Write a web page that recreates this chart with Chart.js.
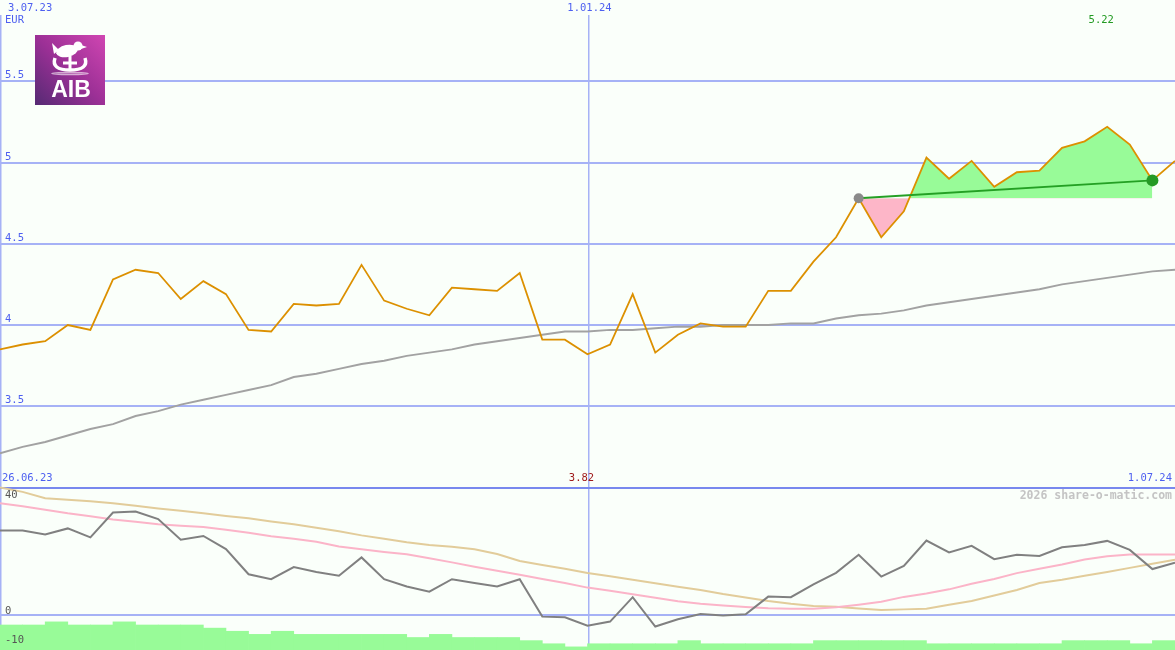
<!DOCTYPE html>
<html>
<head>
<meta charset="utf-8">
<title>AIB</title>
<script src="https://cdn.jsdelivr.net/npm/chart.js@4.4.1/dist/chart.umd.min.js"></script>
<style>
    html, body { margin: 0; padding: 0; background: #fafffa; }
    #wrap { width: 1175px; height: 650px; }
</style>
</head>
<body>
<div id="wrap"><canvas id="aibChart" width="1175" height="650"></canvas></div>
<script>
// weekly closes, 3.07.23 .. 1.07.24 (EUR)
const prices = [3.85, 3.88, 3.90, 4.00, 3.97, 4.28, 4.34, 4.32, 4.16, 4.27,
    4.19, 3.97, 3.96, 4.13, 4.12, 4.13, 4.37, 4.15, 4.10, 4.06,
    4.23, 4.22, 4.21, 4.32, 3.91, 3.91, 3.82, 3.88, 4.19, 3.83,
    3.94, 4.01, 3.99, 3.99, 4.21, 4.21, 4.39, 4.54, 4.78, 4.54,
    4.70, 5.03, 4.90, 5.01, 4.85, 4.94, 4.95, 5.09, 5.13, 5.22,
    5.11, 4.89, 5.01];

// long moving average (grey)
const priceAvg = [3.21, 3.25, 3.28, 3.32, 3.36, 3.39, 3.44, 3.47, 3.51, 3.54,
    3.57, 3.60, 3.63, 3.68, 3.70, 3.73, 3.76, 3.78, 3.81, 3.83,
    3.85, 3.88, 3.90, 3.92, 3.94, 3.96, 3.96, 3.97, 3.97, 3.98,
    3.99, 3.99, 4.00, 4.00, 4.00, 4.01, 4.01, 4.04, 4.06, 4.07,
    4.09, 4.12, 4.14, 4.16, 4.18, 4.20, 4.22, 4.25, 4.27, 4.29,
    4.31, 4.33, 4.34];

// oscillator (lower panel)
const momentum = [29.2, 29.2, 27.8, 29.9, 26.8, 35.4, 35.7, 33.1, 26.0, 27.3,
    22.8, 14.1, 12.4, 16.6, 14.9, 13.6, 19.9, 12.4, 9.9, 8.1,
    12.4, 11.1, 9.9, 12.4, -0.5, -0.7, -3.6, -2.2, 6.2, -3.9,
    -1.4, 0.4, -0.1, 0.3, 6.4, 6.2, 10.6, 14.6, 20.8, 13.3,
    17.0, 25.7, 21.6, 23.9, 19.3, 20.8, 20.4, 23.4, 24.2, 25.6,
    22.5, 15.9, 18.1];
const momFast = [38.6, 37.5, 36.3, 35.1, 34.1, 33.0, 32.2, 31.3, 30.8, 30.4,
    29.4, 28.4, 27.2, 26.3, 25.3, 23.7, 22.7, 21.8, 21.0, 19.6,
    18.2, 16.7, 15.3, 13.9, 12.5, 11.1, 9.5, 8.4, 7.2, 6.0,
    4.8, 3.9, 3.3, 2.8, 2.4, 2.2, 2.2, 2.7, 3.6, 4.6,
    6.3, 7.5, 8.9, 10.8, 12.5, 14.5, 16.0, 17.5, 19.2, 20.3,
    20.9, 20.9, 20.9];
const momSlow = [44.0, 42.5, 40.3, 39.8, 39.3, 38.6, 37.7, 36.8, 36.0, 35.1,
    34.2, 33.4, 32.3, 31.3, 30.1, 28.9, 27.5, 26.3, 25.1, 24.2,
    23.6, 22.7, 21.1, 18.7, 17.3, 16.0, 14.5, 13.4, 12.2, 11.0,
    9.8, 8.7, 7.3, 6.1, 4.9, 3.9, 3.2, 2.9, 2.3, 1.8,
    2.0, 2.2, 3.6, 4.9, 6.8, 8.7, 11.1, 12.2, 13.6, 14.9,
    16.3, 17.7, 19.1];

// weekly volume level (one bar per week)
const volume = [8, 8, 9, 8, 8, 9, 8, 8, 8, 7, 6, 5, 6, 5, 5, 5, 5, 5, 4, 5,
    4, 4, 4, 3, 2, 1, 2, 2, 2, 2, 3, 2, 2, 2, 2, 2, 3, 3, 3, 3,
    3, 2, 2, 2, 2, 2, 2, 3, 3, 3, 2, 3];

const topDates = [[0, '3.07.23'], [26, '1.01.24']];
const priceTicks = [5.5, 5, 4.5, 4, 3.5];
const oscTicks = [40, 0, -10];
const trendFrom = 38;
const trendTo = 51;

const BLUE_TXT = '#4d5ff0';
const GRID = '#a6b2f6';
const FONT = '10.5px "DejaVu Sans Mono", monospace';

const pts = arr => arr.map((y, i) => ({ x: i, y: y }));
const maxIdx = prices.indexOf(Math.max(...prices));
const minIdx = prices.indexOf(Math.min(...prices));

function drawLogo(ctx, x, y, s) {
    const g = ctx.createLinearGradient(x + s, y, x, y + s);
    g.addColorStop(0, '#d046b2');
    g.addColorStop(0.5, '#9c3096');
    g.addColorStop(1, '#552a73');
    ctx.fillStyle = g;
    ctx.fillRect(x, y, s, s);
    ctx.fillStyle = '#fff';
    ctx.strokeStyle = '#fff';
    // bird
    ctx.beginPath();
    ctx.ellipse(x + 32, y + 16, 11, 6, -0.2, 0, Math.PI * 2);
    ctx.fill();
    ctx.beginPath();
    ctx.arc(x + 43, y + 11, 4.5, 0, Math.PI * 2);
    ctx.fill();
    ctx.beginPath();
    ctx.moveTo(x + 46, y + 10); ctx.lineTo(x + 52, y + 12); ctx.lineTo(x + 46, y + 14);
    ctx.fill();
    ctx.beginPath();
    ctx.moveTo(x + 24, y + 15); ctx.lineTo(x + 17, y + 8); ctx.lineTo(x + 19, y + 19);
    ctx.fill();
    // ark with cross
    ctx.lineWidth = 3.5;
    ctx.beginPath();
    ctx.moveTo(x + 20, y + 23);
    ctx.quadraticCurveTo(x + 16, y + 35, x + 35, y + 35);
    ctx.quadraticCurveTo(x + 54, y + 35, x + 50, y + 23);
    ctx.stroke();
    ctx.lineWidth = 3;
    ctx.beginPath();
    ctx.moveTo(x + 35, y + 21); ctx.lineTo(x + 35, y + 35);
    ctx.moveTo(x + 28, y + 28); ctx.lineTo(x + 42, y + 28);
    ctx.stroke();
    ctx.globalAlpha = 0.6;
    ctx.lineWidth = 1.5;
    ctx.beginPath();
    ctx.ellipse(x + 35, y + 38.5, 18, 1, 0, 0, Math.PI * 2);
    ctx.stroke();
    ctx.globalAlpha = 1;
    ctx.font = 'bold 23px "Liberation Sans", Arial, sans-serif';
    ctx.textAlign = 'center';
    ctx.textBaseline = 'alphabetic';
    ctx.fillText('AIB', x + 36, y + 62);
}

const panels = {
    id: 'panels',
    beforeDatasetsDraw(chart) {
        const { ctx, scales } = chart;
        const x = scales.x, yP = scales.yP, yO = scales.yO;
        const w = chart.width, h = chart.height;
        ctx.save();
        ctx.lineWidth = 2;
        ctx.strokeStyle = GRID;
        ctx.beginPath();
        priceTicks.forEach(v => {
            const py = Math.round(yP.getPixelForValue(v));
            ctx.moveTo(0, py); ctx.lineTo(w, py);
        });
        const z = Math.round(yO.getPixelForValue(0));
        ctx.moveTo(0, z); ctx.lineTo(w, z);
        ctx.stroke();
        ctx.lineWidth = 1.5;
        ctx.beginPath();
        topDates.forEach(d => {
            const px = Math.round(x.getPixelForValue(d[0])) + 0.75;
            ctx.moveTo(px, 15); ctx.lineTo(px, h);
        });
        ctx.stroke();
        // panel separator
        const sep = Math.round(yP.getPixelForValue(3));
        ctx.strokeStyle = '#7888ee';
        ctx.lineWidth = 2;
        ctx.beginPath();
        ctx.moveTo(0, sep); ctx.lineTo(w, sep);
        ctx.stroke();
        ctx.restore();
    },
    afterDatasetsDraw(chart) {
        const { ctx, scales } = chart;
        const x = scales.x, yP = scales.yP, yO = scales.yO;
        const w = chart.width;
        ctx.save();
        ctx.font = FONT;
        ctx.textBaseline = 'alphabetic';
        ctx.fillStyle = BLUE_TXT;
        ctx.textAlign = 'left';
        priceTicks.forEach(v => ctx.fillText(String(v), 5, yP.getPixelForValue(v) - 3));
        ctx.textBaseline = 'middle';
        ctx.fillText(topDates[0][1], 8, 8);
        ctx.fillText('EUR', 5, 20);
        ctx.textAlign = 'center';
        ctx.fillText(topDates[1][1], x.getPixelForValue(topDates[1][0]) + 2, 8);
        ctx.textAlign = 'left';
        ctx.fillText('26.06.23', 2, 478);
        ctx.textAlign = 'right';
        ctx.fillText('1.07.24', w - 3, 478);
        ctx.textAlign = 'center';
        ctx.fillStyle = '#a01c1c';
        ctx.fillText(prices[minIdx].toFixed(2), x.getPixelForValue(minIdx) - 6, 478);
        ctx.fillStyle = '#229a22';
        ctx.fillText(prices[maxIdx].toFixed(2), x.getPixelForValue(maxIdx) - 6, 20);
        ctx.textAlign = 'right';
        ctx.fillStyle = '#c4c4c4';
        ctx.font = 'bold 11.5px "DejaVu Sans Mono", monospace';
        ctx.fillText('2026 share-o-matic.com', w - 3, 496);
        ctx.font = FONT;
        ctx.fillStyle = '#555';
        ctx.textAlign = 'left';
        ctx.textBaseline = 'alphabetic';
        oscTicks.forEach(v => ctx.fillText(String(v), 5, yO.getPixelForValue(v) - 1));
        drawLogo(ctx, 35, 35, 70);
        ctx.restore();
    }
};

function renderChart() {
    const ctx = document.getElementById('aibChart').getContext('2d');
    new Chart(ctx, {
        type: 'line',
        data: {
            datasets: [
                {
                    label: 'start', type: 'scatter', order: -2, yAxisID: 'yP',
                    data: [{ x: trendFrom, y: prices[trendFrom] }],
                    pointRadius: 5, pointBackgroundColor: '#8a8a8a', pointBorderWidth: 0
                },
                {
                    label: 'end', type: 'scatter', order: -2, yAxisID: 'yP',
                    data: [{ x: trendTo, y: prices[trendTo] }],
                    pointRadius: 6, pointBackgroundColor: '#259a25', pointBorderWidth: 0
                },
                {
                    label: 'trend', order: 0, yAxisID: 'yP',
                    data: [{ x: trendFrom, y: prices[trendFrom] }, { x: trendTo, y: prices[trendTo] }],
                    borderColor: '#24a024', borderWidth: 2, pointRadius: 0
                },
                {
                    label: 'price', order: 1, yAxisID: 'yP',
                    data: pts(prices),
                    borderColor: '#dc9000', borderWidth: 1.8, pointRadius: 0
                },
                {
                    label: 'area', order: 6, yAxisID: 'yP',
                    data: pts(prices).map(p => (p.x >= trendFrom && p.x <= trendTo ? p : { x: p.x, y: null })),
                    borderWidth: 0, pointRadius: 0, spanGaps: false,
                    fill: { target: { value: prices[trendFrom] }, above: '#98fb98', below: '#fdb6c8' }
                },
                {
                    label: 'avg', order: 3, yAxisID: 'yP',
                    data: pts(priceAvg),
                    borderColor: '#a2a2a2', borderWidth: 2, pointRadius: 0
                },
                {
                    label: 'osc', order: 2, yAxisID: 'yO',
                    data: pts(momentum),
                    borderColor: '#808080', borderWidth: 2, pointRadius: 0
                },
                {
                    label: 'fast', order: 4, yAxisID: 'yO',
                    data: pts(momFast),
                    borderColor: '#fbb4c8', borderWidth: 2, pointRadius: 0
                },
                {
                    label: 'slow', order: 5, yAxisID: 'yO',
                    data: pts(momSlow),
                    borderColor: '#e2cc9a', borderWidth: 2, pointRadius: 0
                },
                {
                    label: 'volume', type: 'bar', order: 10, yAxisID: 'yV',
                    data: volume.map((v, i) => ({ x: i + 0.5, y: v })),
                    backgroundColor: '#98fb98', borderWidth: 0,
                    barPercentage: 1, categoryPercentage: 1
                }
            ]
        },
        options: {
            responsive: false,
            animation: false,
            devicePixelRatio: 1,
            layout: { padding: 0, autoPadding: false },
            elements: { line: { tension: 0 } },
            plugins: { legend: { display: false }, tooltip: { enabled: false } },
            scales: {
                x: { type: 'linear', min: 0, max: 52, offset: false, display: false },
                yP: { type: 'linear', min: 2, max: 6, display: false },
                yO: { type: 'linear', min: -12, max: 212, display: false },
                yV: { type: 'linear', min: 0, max: 208, display: false }
            }
        },
        plugins: [panels]
    });
}

window.onload = function () {
    renderChart();
};
</script>
</body>
</html>
